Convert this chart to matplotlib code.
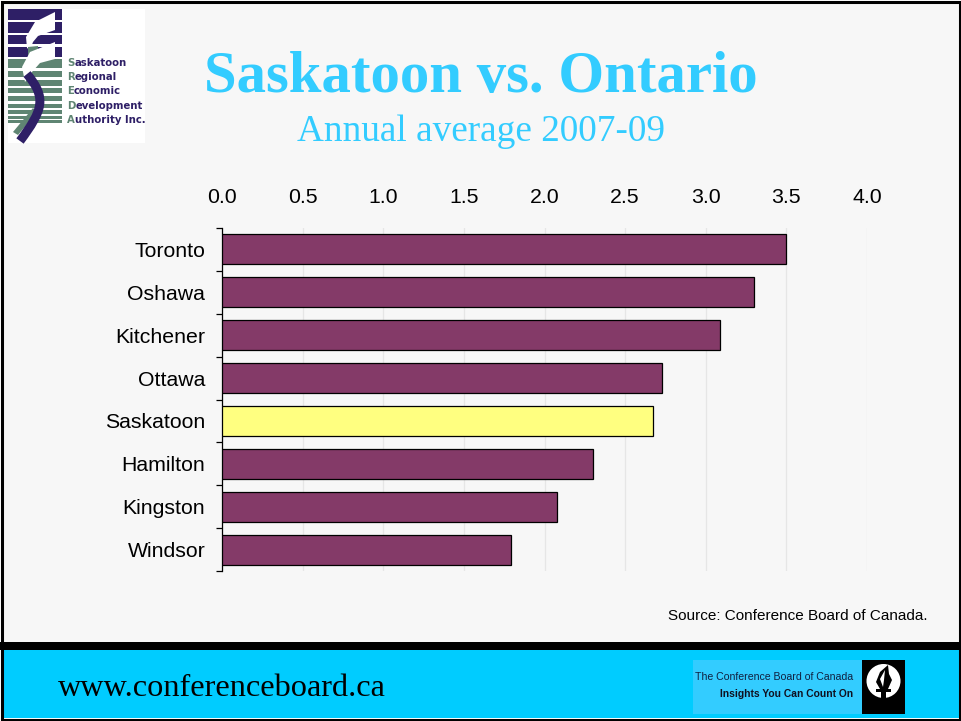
import matplotlib
matplotlib.use("Agg")
import matplotlib.pyplot as plt
from matplotlib.patches import Rectangle, Polygon, Circle, PathPatch
from matplotlib.path import Path

cities = ["Toronto", "Oshawa", "Kitchener", "Ottawa", "Saskatoon", "Hamilton", "Kingston", "Windsor"]
values = [3.5, 3.30, 3.09, 2.73, 2.67, 2.30, 2.08, 1.79]
highlight = "Saskatoon"
xticks = [0.0, 0.5, 1.0, 1.5, 2.0, 2.5, 3.0, 3.5, 4.0]

W, H = 961, 721
SANS = "Liberation Sans"
SERIF = "Liberation Serif"
NAVY = "#2E1F66"
GREEN = "#5F8573"

fig = plt.figure(figsize=(W / 100, H / 100), dpi=100, facecolor="white")

# background layer in pixel coordinates
bg = fig.add_axes([0, 0, 1, 1])
bg.set_xlim(0, W)
bg.set_ylim(H, 0)
bg.axis("off")
bg.add_patch(Rectangle((2, 2), 957, 640, fc="#F7F7F7", ec="none"))
bg.add_patch(Rectangle((2, 650), 957, 68, fc="#00CCFF", ec="none"))
bg.add_patch(Rectangle((0, 642), W, 8, fc="black", ec="none"))
bg.add_patch(Rectangle((1.5, 1.5), W - 3, H - 3, fc="none", ec="black", lw=2.2))

# logo
bg.add_patch(Rectangle((8, 9), 137, 134, fc="white", ec="none"))
for y0, y1 in [(9, 20), (22, 33), (35, 44), (47, 57)]:
    bg.add_patch(Rectangle((8, y0), 54, y1 - y0, fc=NAVY, ec="none"))
for y0, y1 in [(59, 68), (71, 77), (80, 86), (88, 93), (96, 101), (104, 108), (110, 114), (116, 119), (120, 123)]:
    bg.add_patch(Rectangle((8, y0), 54, y1 - y0, fc=GREEN, ec="none"))
bg.add_patch(Polygon([[13, 132], [33, 108], [37, 112], [18, 135]], fc=GREEN, ec="none"))
bg.add_patch(Polygon([[55, 12], [55, 30], [38, 36], [33, 42], [30, 50], [27, 48], [26, 37], [35, 22]], fc="white", ec="none"))
bg.add_patch(Polygon([[28, 47], [38, 46], [38, 59], [28, 59]], fc=GREEN, ec="none"))
bg.add_patch(Polygon([[55, 42], [55, 59], [40, 63], [32, 72], [25, 82], [22, 67], [30, 52]], fc="white", ec="none"))
swoosh = Path([(27, 74), (47, 98), (43, 110), (20, 141)], [Path.MOVETO, Path.CURVE4, Path.CURVE4, Path.CURVE4])
bg.add_patch(PathPatch(swoosh, fc="none", ec=NAVY, lw=6.5))
logo_lines = ["Saskatoon", "Regional", "Economic", "Development", "Authority Inc."]
for i, line in enumerate(logo_lines):
    y = 63 + i * 14.2
    first = bg.text(67, y, line[0], color=GREEN, fontsize=7.3, fontweight="bold", family="DejaVu Sans", va="center", ha="left")
    ext = first.get_window_extent(fig.canvas.get_renderer())
    bg.text(ext.x1, y, line[1:], color=NAVY, fontsize=7.3, fontweight="bold", family="DejaVu Sans", va="center", ha="left")

# titles
bg.text(481, 78, "Saskatoon vs. Ontario", color="#33CCFF", fontsize=42.3, fontweight="bold", family=SERIF, ha="center", va="center")
bg.text(481, 132, "Annual average 2007-09", color="#33CCFF", fontsize=26.8, family=SERIF, ha="center", va="center")

# chart
ax = fig.add_axes([222 / W, 1 - 571 / H, (867 - 222) / W, (571 - 228) / H])
ax.patch.set_alpha(0)
colors = ["#FFFF80" if c == highlight else "#843A68" for c in cities]
ax.barh(range(len(cities)), values, height=0.7, color=colors, edgecolor="black", linewidth=0.9, zorder=3)
ax.set_xlim(0, 4)
ax.set_ylim(len(cities) - 0.5, -0.5)
ax.xaxis.tick_top()
ax.set_xticks(xticks)
ax.set_xticklabels([f"{v:.1f}" for v in xticks], fontsize=15.3, family=SANS, color="black")
ax.set_yticks(range(len(cities)))
ax.set_yticklabels(cities, fontsize=15.3, family=SANS, color="black")
ax.tick_params(axis="x", length=0, pad=15)
ax.tick_params(axis="y", length=0, pad=12)
# ticks between categories
ax.set_yticks([i - 0.5 for i in range(len(cities) + 1)], minor=True)
ax.tick_params(axis="y", which="minor", length=4.5, width=0.9, color="black", left=True)
ax.grid(axis="x", color="#E6E6E6", linewidth=0.9, zorder=0)
for s in ["top", "right", "bottom"]:
    ax.spines[s].set_visible(False)
ax.spines["left"].set_linewidth(0.9)

bg.text(928, 616, "Source: Conference Board of Canada.", fontsize=11, family=SANS, ha="right", va="center", color="black")

# footer
bg.text(58, 689, "www.conferenceboard.ca", fontsize=23.2, family=SERIF, ha="left", va="center", color="black")
bg.add_patch(Rectangle((693, 660), 169, 54, fc="#33CCFF", ec="none"))
bg.text(853, 677, "The Conference Board of Canada", fontsize=7.6, family=SANS, ha="right", va="center", color="#102040")
bg.text(853, 694, "Insights You Can Count On", fontsize=7.4, fontweight="bold", family=SANS, ha="right", va="center", color="#101020")
bg.add_patch(Rectangle((862, 660), 43, 54, fc="black", ec="none"))
bg.add_patch(Circle((883.5, 681), 17, fc="white", ec="none"))
bg.add_patch(Polygon([[888, 665], [880, 672], [876, 682], [880, 689], [888, 689], [892, 680], [889, 674]], fc="black", ec="none"))
bg.add_patch(Polygon([[885, 670], [880, 679], [883, 687], [884, 680]], fc="white", ec="none"))
bg.add_patch(Rectangle((876, 689), 15, 3, fc="black", ec="none"))
bg.add_patch(Rectangle((881, 692), 5, 6, fc="black", ec="none"))

fig.savefig("out.png", dpi=100)
